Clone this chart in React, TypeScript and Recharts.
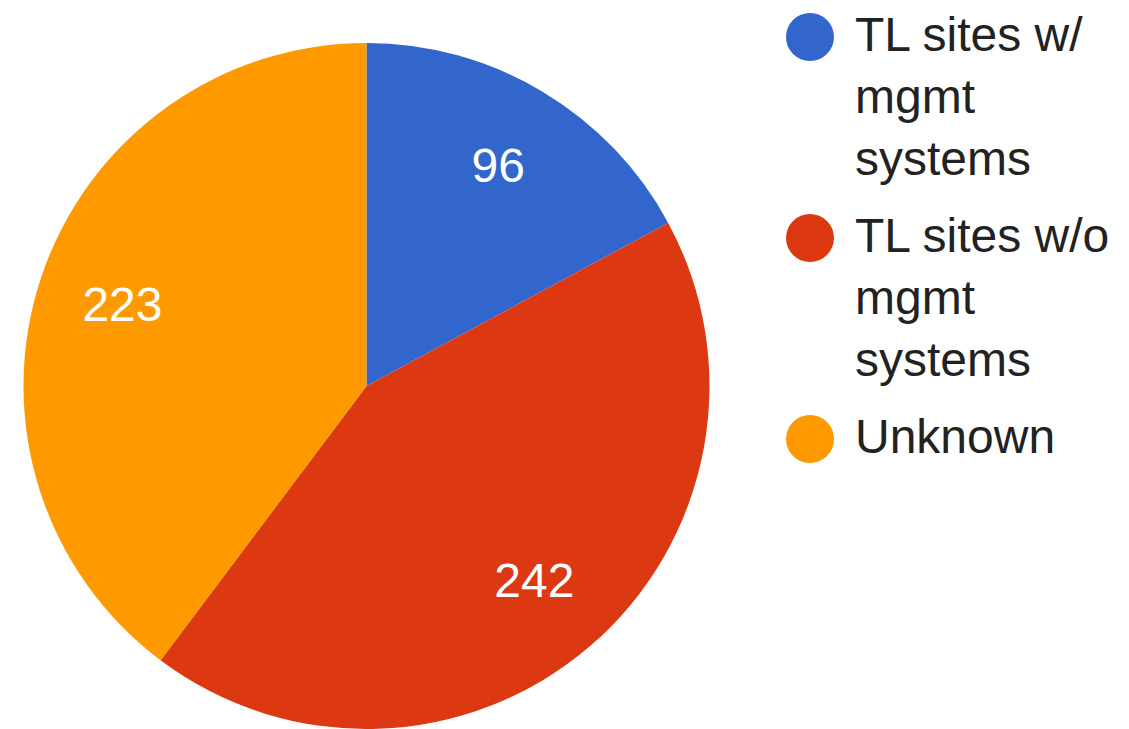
import React from 'react';
import { PieChart, Pie, Cell, Legend } from 'recharts';

const categories = ['TL sites w/ mgmt systems', 'TL sites w/o mgmt systems', 'Unknown'];
const counts = [96, 242, 223];
const colors = ['#3366cc', '#dc3912', '#ff9900'];

const pieData = categories.map((name, i) => ({ name, value: counts[i] }));

const FONT = '"Liberation Sans", Arial, sans-serif';
const RADIAN = Math.PI / 180;

// Value labels sit inside each slice, about 3/4 of the way out
const renderLabel = (props: any) => {
  const { cx, cy, midAngle, outerRadius, value } = props;
  const r = outerRadius * 0.75;
  const x = cx + r * Math.cos(-midAngle * RADIAN);
  const y = cy + r * Math.sin(-midAngle * RADIAN);
  return (
    <text
      x={x}
      y={y}
      fill="#ffffff"
      textAnchor="middle"
      dominantBaseline="central"
      fontFamily={FONT}
      fontSize={48}
    >
      {value}
    </text>
  );
};

const renderLegend = (props: any) => {
  const { payload } = props;
  return (
    <div style={{ fontFamily: FONT }}>
      {payload.map((entry: any, index: number) => (
        <div
          key={`legend-${index}`}
          style={{ display: 'flex', alignItems: 'flex-start', marginBottom: 15 }}
        >
          <svg width={48} height={48} style={{ marginTop: 9, flexShrink: 0 }}>
            <circle cx={24} cy={24} r={24} fill={entry.color} />
          </svg>
          <div
            style={{
              marginLeft: 21,
              width: 270,
              fontSize: 48,
              lineHeight: '62px',
              color: '#222222',
            }}
          >
            {entry.value}
          </div>
        </div>
      ))}
    </div>
  );
};

const App: React.FC = () => {
  return (
    <div style={{ position: 'absolute', left: 0, top: 0, background: '#ffffff' }}>
      <PieChart width={1129} height={729} margin={{ top: 0, right: 0, bottom: 0, left: 0 }}>
        <Pie
          data={pieData}
          dataKey="value"
          nameKey="name"
          cx={366.5}
          cy={386}
          outerRadius={343}
          startAngle={90}
          endAngle={-270}
          stroke="none"
          labelLine={false}
          label={renderLabel}
          isAnimationActive={false}
        >
          {pieData.map((entry, index) => (
            <Cell key={`cell-${index}`} fill={colors[index]} />
          ))}
        </Pie>
        <Legend
          layout="vertical"
          verticalAlign="top"
          align="right"
          content={renderLegend}
          wrapperStyle={{ left: 786, top: 4, width: 343 }}
        />
      </PieChart>
    </div>
  );
};

export default App;
